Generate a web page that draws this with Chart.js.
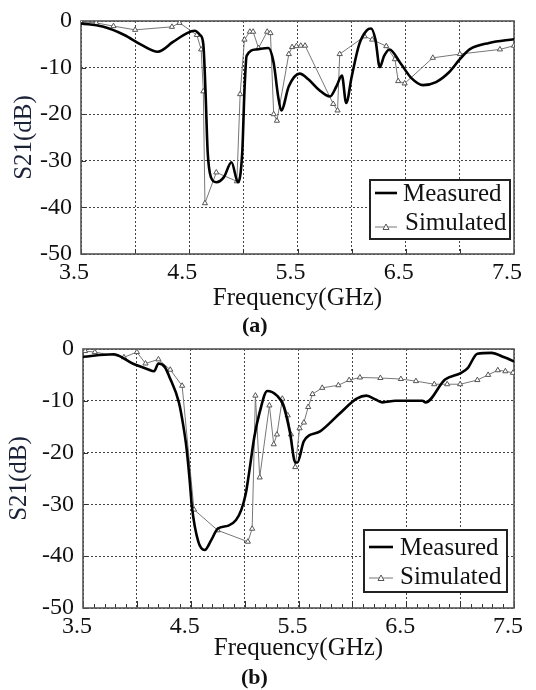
<!DOCTYPE html>
<html>
<head>
<meta charset="utf-8">
<script src="https://cdn.jsdelivr.net/npm/chart.js@4.4.1/dist/chart.umd.min.js"></script>
<style>
  body { margin: 0; background: #fff; width: 536px; height: 690px; position: relative; overflow: hidden;
         font-family: "Liberation Serif", "Times New Roman", Tinos, "Nimbus Roman", "DejaVu Serif", serif; color: #111; }
  canvas { position: absolute; left: 0; }
  .cap { position: absolute; font-weight: bold; font-size: 22px; line-height: 22px; }
  .box { position: absolute; box-sizing: border-box; border: 2px solid #222; background: #fff; }
  .lt { position: absolute; font-size: 25px; line-height: 25px; white-space: nowrap; }
  svg { position: absolute; overflow: visible; }
</style>
</head>
<body>
<canvas id="chartA" width="536" height="313" style="top:0"></canvas>
<canvas id="chartB" width="536" height="335" style="top:328px"></canvas>

<div class="cap" style="left:242px;top:314px">(a)</div>
<div class="cap" style="left:241px;top:666px">(b)</div>

<!-- legend boxes -->
<div class="box" style="left:369px;top:179px;width:142px;height:61px"></div>
<div class="box" style="left:363px;top:529px;width:145px;height:64px"></div>

<svg style="left:0;top:0" width="536" height="690">
  <line x1="375" y1="193" x2="397" y2="193" stroke="#000" stroke-width="2.6"/>
  <line x1="375" y1="227" x2="397" y2="227" stroke="#777" stroke-width="1"/>
  <polygon points="386,224 389,229.5 383,229.5" fill="#fff" stroke="#555" stroke-width="1"/>
  <line x1="369" y1="547" x2="393" y2="547" stroke="#000" stroke-width="2.6"/>
  <line x1="369" y1="578" x2="393" y2="578" stroke="#777" stroke-width="1"/>
  <polygon points="381,575 384,580.5 378,580.5" fill="#fff" stroke="#555" stroke-width="1"/>
</svg>

<div class="lt" style="left:403px;top:180px">Measured</div>
<div class="lt" style="left:405px;top:209px">Simulated</div>
<div class="lt" style="left:400px;top:534px">Measured</div>
<div class="lt" style="left:400px;top:563px">Simulated</div>

<script>
// x labels shown under the grid (grid itself every 0.5 GHz)
const xLabels = [3.5, 4.5, 5.5, 6.5, 7.5];
const yTicks = [0, -10, -20, -30, -40, -50];

// (a) measured
const freqMeasA = [3.50, 3.70, 3.90, 4.05, 4.21, 4.35, 4.48, 4.55, 4.60, 4.63, 4.65, 4.67, 4.70, 4.75, 4.82, 4.89,
  4.95, 4.99, 5.01, 5.03, 5.12, 5.23, 5.28, 5.32, 5.35, 5.42, 5.52, 5.60, 5.70, 5.80, 5.86, 5.91, 5.95, 6.00, 6.07,
  6.14, 6.18, 6.22, 6.26, 6.30, 6.35, 6.45, 6.55, 6.66, 6.78, 6.90, 7.00, 7.09, 7.27, 7.50];
const s21MeasA = [-0.5, -1.2, -3.0, -5.0, -6.6, -4.5, -2.6, -2.1, -3.0, -5.0, -15, -28, -33.5, -34.6, -33.5, -30.3,
  -34.6, -28, -15, -7.5, -6.1, -5.8, -9, -16, -19.2, -14, -11.3, -12.5, -14.8, -16.2, -14, -11.7, -17.6, -12, -5,
  -2, -1.6, -4, -9.9, -7.5, -6.1, -9, -12.2, -13.75, -13.1, -11, -8.2, -6.1, -4.7, -3.9];

// (a) simulated
const freqSimA = [3.50, 3.64, 3.80, 4.00, 4.34, 4.41, 4.57, 4.61, 4.63, 4.645, 4.75, 4.94, 4.97, 5.01, 5.06, 5.09,
  5.14, 5.22, 5.25, 5.28, 5.31, 5.42, 5.45, 5.49, 5.53, 5.57, 5.83, 5.87, 5.89, 6.12, 6.19, 6.32, 6.40, 6.43, 6.49,
  6.75, 7.00, 7.37, 7.50];
const s21SimA = [-0.2, -0.4, -1.1, -1.9, -1.25, -0.4, -3.0, -6.1, -15.1, -39.1, -32.5, -34.4, -15.7, -4.0, -2.3, -2.3,
  -5.8, -2.3, -2.6, -20, -21.4, -7.1, -5.6, -5.4, -5.3, -5.3, -17.8, -19.2, -7.1, -3.3, -4.0, -5.4, -8.2, -12.9, -13.4,
  -7.9, -7.1, -6.1, -5.3];

// (b) measured
const freqMeasB = [3.50, 3.78, 3.96, 4.10, 4.16, 4.20, 4.26, 4.30, 4.39, 4.43, 4.46, 4.49, 4.51, 4.57, 4.63, 4.69,
  4.75, 4.85, 4.92, 4.97, 5.01, 5.04, 5.09, 5.14, 5.21, 5.30, 5.36, 5.42, 5.47, 5.49, 5.55, 5.70, 5.88, 6.04, 6.13,
  6.22, 6.28, 6.40, 6.65, 6.68, 6.86, 7.01, 7.07, 7.16, 7.29, 7.41, 7.50];
const s21MeasB = [-1.5, -1.0, -2.8, -3.9, -4.3, -2.8, -3.5, -5.3, -10.3, -14.7, -19, -25.3, -30.3, -37.2, -38.8, -36.9,
  -34.7, -34.1, -33, -31.0, -28, -24.1, -17, -12.2, -8.1, -9, -10.9, -16, -21.9, -21.9, -17.8, -15.9, -12.5, -9.6, -9.0,
  -9.8, -10.3, -10.0, -10.0, -10.3, -5.9, -4.6, -3.7, -0.9, -0.75, -1.6, -2.4];

// (b) simulated
const freqSimB = [3.52, 3.61, 3.88, 4.00, 4.08, 4.20, 4.31, 4.42, 4.53, 4.75, 5.03, 5.07, 5.10, 5.14, 5.23, 5.27,
  5.30, 5.35, 5.40, 5.43, 5.47, 5.51, 5.55, 5.59, 5.63, 5.72, 5.87, 5.97, 6.07, 6.26, 6.45, 6.59, 6.76, 6.88, 7.00,
  7.16, 7.26, 7.35, 7.42, 7.49];
const s21SimB = [-0.4, -0.6, -1.6, -0.6, -2.8, -2.0, -4.0, -7.1, -31.0, -35.0, -37.2, -34.7, -9.0, -24.8, -10.9, -18.4,
  -16.5, -9.6, -12.8, -16.5, -22.8, -15.3, -14.2, -11.2, -8.7, -7.5, -7.0, -6.0, -5.5, -5.6, -5.8, -6.2, -6.8, -6.8, -6.8,
  -6.0, -5.0, -4.1, -4.3, -4.6];

const TXT = "#111";
const serif = "'Liberation Serif', 'Times New Roman', Tinos, 'Nimbus Roman', 'DejaVu Serif', serif";

// solid frame round the plot plus small inward tick marks
const framePlugin = {
  id: "frame",
  beforeDatasetsDraw(chart, args, opts) {
    const { ctx, chartArea: a, scales: { x, y } } = chart;
    ctx.save();
    ctx.strokeStyle = "#333";
    ctx.lineWidth = 1;
    const n = opts.minor ? 40 : 8;
    for (let i = 0; i <= n; i++) {
      const px = Math.round(x.getPixelForValue(3.5 + i * 4 / n)) + 0.5;
      const major = opts.minor ? i % 5 === 0 : true;
      const len = opts.minor ? (major ? 7 : 4) : 5;
      ctx.beginPath();
      ctx.moveTo(px, a.bottom);
      ctx.lineTo(px, a.bottom - len);
      ctx.stroke();
    }
    yTicks.forEach((v) => {
      const py = Math.round(y.getPixelForValue(v)) + 0.5;
      ctx.beginPath();
      ctx.moveTo(a.left, py);
      ctx.lineTo(a.left + 5, py);
      ctx.stroke();
    });
    ctx.strokeStyle = "#555";
    ctx.lineWidth = 1.6;
    ctx.strokeRect(a.left, a.top, a.right - a.left, a.bottom - a.top);
    ctx.restore();
  }
};

function pts(fs, vs) {
  return fs.map((f, i) => ({ x: f, y: vs[i] }));
}

function makeChart(id, mf, mv, sf, sv, o) {
  return new Chart(document.getElementById(id), {
    type: "line",
    data: {
      datasets: [
        {
          label: "Measured",
          data: pts(mf, mv),
          borderColor: "#000",
          borderWidth: 2.6,
          pointRadius: 0,
          cubicInterpolationMode: "monotone"
        },
        {
          label: "Simulated",
          data: pts(sf, sv),
          borderColor: "#777",
          borderWidth: 1,
          tension: 0,
          pointStyle: "triangle",
          pointRadius: 3,
          pointBackgroundColor: "#fff",
          pointBorderColor: "#555",
          pointBorderWidth: 1
        }
      ]
    },
    options: {
      responsive: false,
      animation: false,
      devicePixelRatio: 1,
      layout: { padding: { left: 0, top: 14, right: o.right, bottom: 0 } },
      plugins: { legend: { display: false }, tooltip: { enabled: false }, frame: { minor: o.minor } },
      scales: {
        x: {
          type: "linear",
          min: 3.5,
          max: 7.5,
          afterFit: (s) => { s.height = o.xh; },
          grid: { drawTicks: false, color: "#444", lineWidth: 1 },
          border: { display: false, dash: [2, 2] },
          ticks: {
            stepSize: 0.5,
            autoSkip: false,
            maxRotation: 0,
            padding: 7,
            labelOffset: o.lo,
            color: TXT,
            font: { family: serif, size: 24, lineHeight: 1 },
            callback: (v) => xLabels.some((l) => Math.abs(l - v) < 1e-6) ? Number(v).toFixed(1) : ""
          },
          title: {
            display: true,
            text: "Frequency(GHz)",
            color: TXT,
            padding: 0,
            font: { family: serif, size: 25, lineHeight: 1.2 }
          }
        },
        y: {
          min: -50,
          max: 0,
          afterFit: (s) => { s.width = o.yw; },
          grid: { drawTicks: false, color: "#444", lineWidth: 1 },
          border: { display: false, dash: [2, 2] },
          ticks: {
            stepSize: 10,
            padding: 9,
            color: TXT,
            font: { family: serif, size: 24, lineHeight: 1 }
          },
          title: {
            display: true,
            text: "S21(dB)",
            color: "#1b2238",
            padding: { top: o.tp, bottom: 0 },
            font: { family: serif, size: 25, lineHeight: 1.2 }
          }
        }
      }
    },
    plugins: [framePlugin]
  });
}

makeChart("chartA", freqMeasA, s21MeasA, freqSimA, s21SimA, { right: 22, xh: 59, yw: 81, lo: -7, tp: 9, minor: false });
makeChart("chartB", freqMeasB, s21MeasB, freqSimB, s21SimB, { right: 16, xh: 55, yw: 83, lo: -6, tp: 4, minor: true });
</script>
</body>
</html>
